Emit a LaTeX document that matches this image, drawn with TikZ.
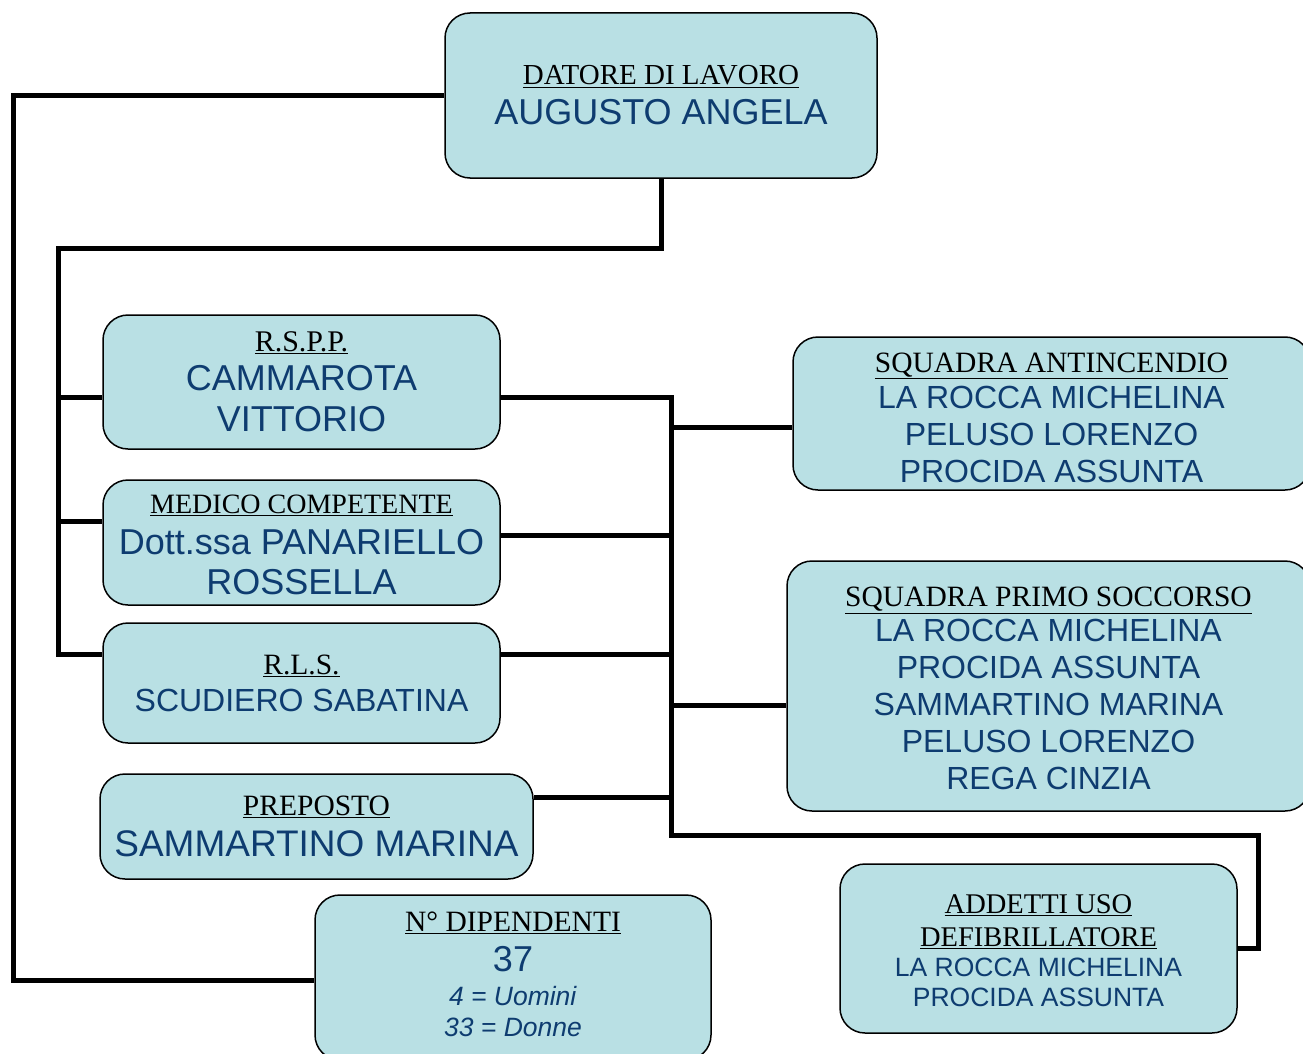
\documentclass[tikz,border=0pt]{standalone}
\usepackage{fontspec}
\setmainfont{Liberation Serif}
\newfontfamily\namefont{Liberation Sans}
\definecolor{boxfill}{RGB}{185,224,228}
\definecolor{nameblue}{RGB}{14,60,112}
% underlined black heading inside a box
\newcommand{\hd}[2]{{\rmfamily\color{black}\fontsize{#1}{#1}\selectfont\underline{#2}}}
% invisible struts to nudge a box text up or down
\newcommand{\topgap}[1]{\rule{0pt}{#1pt}}
\newcommand{\botgap}[1]{\rule[-#1pt]{0pt}{0pt}}

\begin{document}
\begin{tikzpicture}[x=1pt, y=-1pt,
    box/.style={rectangle, draw, line width=1.5pt, fill=boxfill, rounded corners=25pt,
    inner sep=0pt, align=center, text=nameblue},
    line/.style={draw, line width=5pt, line join=miter}]

\useasboundingbox (0,0) rectangle (1303,1054);

\node [box, minimum width=432, minimum height=165, font={\namefont\fontsize{36}{40}\selectfont}] (datore) at (661,95.5) {\hd{29}{DATORE DI LAVORO}\\AUGUSTO ANGELA};
\node [box, minimum width=397, minimum height=134, font={\namefont\fontsize{36}{41}\selectfont}] (rspp) at (301.5,382) {\hd{30}{R.S.P.P.}\\[-2pt]CAMMAROTA\\VITTORIO};
\node [box, minimum width=397, minimum height=125, font={\namefont\fontsize{36}{40}\selectfont}] (medico) at (301.5,542.5) {\topgap{24}\hd{28}{MEDICO COMPETENTE}\\[1pt]Dott.ssa PANARIELLO\\ROSSELLA};
\node [box, minimum width=397, minimum height=120, font={\namefont\fontsize{32}{37}\selectfont}] (rls) at (301.5,683) {\hd{29.5}{R.L.S.}\\SCUDIERO SABATINA};
\node [box, minimum width=433, minimum height=105, font={\namefont\fontsize{37}{41}\selectfont}] (preposto) at (316.5,826.5) {\hd{29.5}{PREPOSTO}\\SAMMARTINO MARINA};
\node [box, minimum width=396, minimum height=165, font={\namefont\fontsize{26.5}{31}\selectfont}] (dipendenti) at (513,977.5) {\hd{29.5}{N° DIPENDENTI}\\[9pt]{\fontsize{36}{36}\selectfont 37}\\[3pt]\textit{4 = Uomini}\\\textit{33 = Donne}\botgap{6}};
\node [box, minimum width=517, minimum height=153, font={\namefont\fontsize{32}{37}\selectfont}] (antincendio) at (1051.5,413.5) {\topgap{28}\hd{29.5}{SQUADRA ANTINCENDIO}\\[-1pt]LA ROCCA MICHELINA\\PELUSO LORENZO\\PROCIDA ASSUNTA};
\node [box, minimum width=523, minimum height=250, font={\namefont\fontsize{32}{37}\selectfont}] (primo) at (1048.5,686) {\topgap{25}\hd{29.5}{SQUADRA PRIMO SOCCORSO}\\[-2pt]LA ROCCA MICHELINA\\PROCIDA ASSUNTA\\SAMMARTINO MARINA\\PELUSO LORENZO\\REGA CINZIA};
\node [box, minimum width=397, minimum height=169, font={\namefont\fontsize{26.5}{30}\selectfont}] (addetti) at (1038.5,948.5) {\topgap{23}\hd{28.5}{ADDETTI USO}\\[3pt]\hd{28.5}{DEFIBRILLATORE}\\LA ROCCA MICHELINA\\PROCIDA ASSUNTA};

% left side
\coordinate (bl1) at (58,397);
\coordinate (bl2) at (58,521);
\coordinate (bl3) at (58,654);
\path [line] (datore.west) -| (13,980) -- (dipendenti.west |- 13,980);
\path [line] (datore.south) |- (58,248) -- (bl3) -- (bl3 -| rls.west);
\path [line] (bl1) -- (bl1 -| rspp.west);
\path [line] (bl2) -- (bl2 -| medico.west);

% right side
\coordinate (br0) at (671,397);
\coordinate (br1) at (671,427);
\coordinate (br2) at (671,535);
\coordinate (br3) at (671,654);
\coordinate (br4) at (671,705);
\coordinate (br5) at (671,797);
\coordinate (br6) at (671,835);
\path [line] (br0 -| rspp.east) -- (br0) -- (br6) -- (1258,835) |- (addetti.east);
\path [line] (br1) -- (br1 -| antincendio.west);
\path [line] (br2 -| medico.east) -- (br2);
\path [line] (br3 -| rls.east) -- (br3);
\path [line] (br4) -- (br4 -| primo.west);
\path [line] (br5 -| preposto.east) -- (br5);
\end{tikzpicture}
\end{document}
